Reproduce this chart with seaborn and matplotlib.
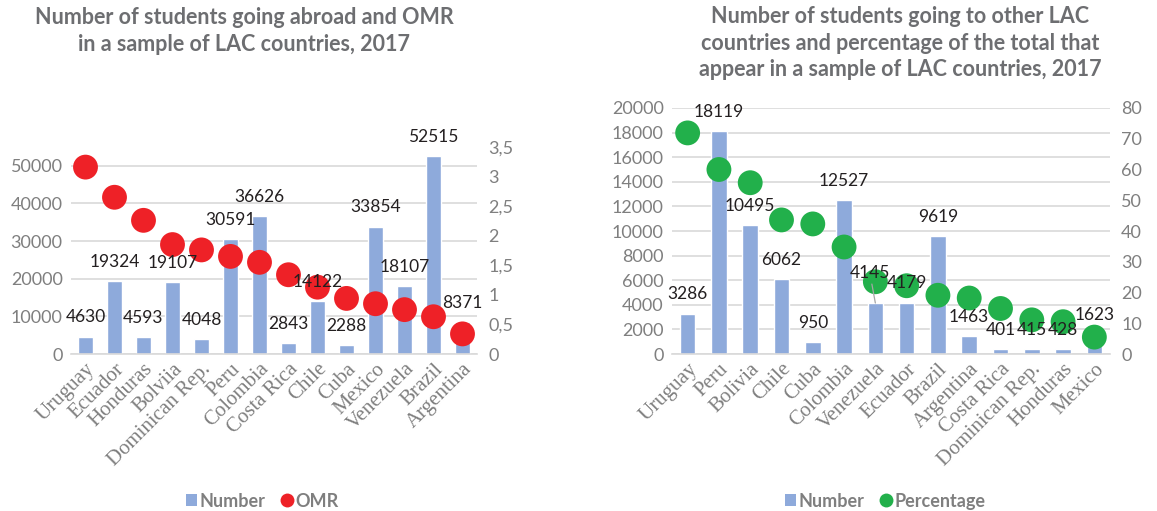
import numpy as np
import pandas as pd
import matplotlib
matplotlib.use("Agg")
import matplotlib.pyplot as plt
import seaborn as sns
from matplotlib.ticker import FixedLocator, MultipleLocator
from matplotlib.patches import Patch
from matplotlib.lines import Line2D

# ---------------------------------------------------------------------------
# Data
# ---------------------------------------------------------------------------
abroad_countries = ["Uruguay", "Ecuador", "Honduras", "Bolviia", "Dominican Rep.",
                    "Peru", "Colombia", "Costa Rica", "Chile", "Cuba", "Mexico",
                    "Venezuela", "Brazil", "Argentina"]
abroad_number = [4630, 19324, 4593, 19107, 4048, 30591, 36626, 2843, 14122,
                 2288, 33854, 18107, 52515, 8371]
abroad_omr = [3.16, 2.65, 2.26, 1.85, 1.76, 1.65, 1.55, 1.34, 1.13, 0.94,
              0.85, 0.75, 0.63, 0.34]

lac_countries = ["Uruguay", "Peru", "Bolivia", "Chile", "Cuba", "Colombia",
                 "Venezuela", "Ecuador", "Brazil", "Argentina", "Costa Rica",
                 "Dominican Rep.", "Honduras", "Mexico"]
lac_number = [3286, 18119, 10495, 6062, 950, 12527, 4145, 4179, 9619, 1463,
              401, 415, 428, 1623]
lac_pct = [71.9, 60.0, 55.7, 43.6, 42.3, 34.8, 23.5, 22.2, 19.1, 18.2, 14.8,
           11.1, 10.5, 5.5]

left_title = "Number of students going abroad and OMR\nin a sample of LAC countries, 2017"
right_title = ("Number of students going to other LAC\ncountries and percentage of the total that\n"
               "appear in a sample of LAC countries, 2017")

# ---------------------------------------------------------------------------
# Style
# ---------------------------------------------------------------------------
BAR = "#8eaadb"
RED = "#ee2127"
GREEN = "#22b04b"
GRID = "#d9d9d9"
TICK = "#7f7f7f"
TITLE = "#6d6e71"
LABEL = "#231f20"

sns.set_style("white")
plt.rcParams["font.family"] = ["Lato", "DejaVu Sans"]


def draw_panel(fig, rect, countries, numbers, points, point_color,
               ymax, ystep, y2max, y2step, y2fmt, label_shift=None):
    ax = fig.add_axes(rect)
    df = pd.DataFrame({"country": countries, "number": numbers, "point": points})
    sns.barplot(data=df, x="country", y="number", color=BAR, width=0.5,
                saturation=1, ax=ax, zorder=2)
    ax.set_ylim(0, ymax)
    ax.yaxis.set_major_locator(MultipleLocator(ystep))
    ax.set_xlim(-0.5, len(countries) - 0.5)
    ax.grid(axis="y", color=GRID, lw=1.2, zorder=0)
    ax.set_axisbelow(True)
    for s in ["top", "right", "left"]:
        ax.spines[s].set_visible(False)
    ax.spines["bottom"].set_color(GRID)
    ax.spines["bottom"].set_linewidth(1.2)
    ax.set_xlabel("")
    ax.set_ylabel("")
    ax.tick_params(axis="y", length=0, labelsize=13, labelcolor=TICK, pad=6)
    ax.tick_params(axis="x", which="major", length=0, pad=4)
    ax.xaxis.set_minor_locator(FixedLocator(np.arange(-0.5, len(countries), 1.0)))
    ax.tick_params(axis="x", which="minor", length=6, color=GRID, width=1.2)
    ax.set_xticks(range(len(countries)))
    ax.set_xticklabels(countries, rotation=45, ha="right", rotation_mode="anchor",
                       family="Liberation Serif", fontsize=15, color=TICK)

    ax2 = ax.twinx()
    sns.scatterplot(data=df, x="country", y="point", color=point_color, s=320,
                    edgecolor="none", ax=ax2, zorder=3)
    ax2.set_ylim(0, y2max)
    ax2.yaxis.set_major_locator(MultipleLocator(y2step))
    ax2.yaxis.set_major_formatter(y2fmt)
    ax2.set_xlim(-0.5, len(countries) - 0.5)
    ax2.set_ylabel("")
    ax2.set_xlabel("")
    for s in ax2.spines.values():
        s.set_visible(False)
    ax2.tick_params(axis="y", length=0, labelsize=13, labelcolor=TICK, pad=8)

    # data labels above bars, drawn over the dots
    for i, p in enumerate(ax.patches[:len(numbers)]):
        xc = p.get_x() + p.get_width() / 2
        h = p.get_height()
        dx, dy = 0, 8
        kw = {}
        if label_shift and i in label_shift:
            dx, dy = label_shift[i]
            kw = dict(arrowprops=dict(arrowstyle="-", color="#a6a6a6", lw=0.9,
                                      shrinkA=0, shrinkB=0))
        ax2.annotate(f"{int(round(h))}", xy=(xc, h), xycoords=ax.transData,
                     xytext=(dx, dy), textcoords="offset points",
                     ha="center", va="bottom", fontsize=12.5, color=LABEL,
                     zorder=5, **kw)
    return ax, ax2


fig = plt.figure(figsize=(11.57, 5.11), dpi=100)

draw_panel(fig, [71 / 1157, 157 / 511, 406 / 1157, 207 / 511],
           abroad_countries, abroad_number, abroad_omr, RED,
           55000, 10000, 3.5, 0.5,
           lambda v, pos: f"{v:g}".replace(".", ","))

draw_panel(fig, [672 / 1157, 157 / 511, 438 / 1157, 246 / 511],
           lac_countries, lac_number, lac_pct, GREEN,
           20000, 2000, 80, 10,
           lambda v, pos: f"{v:g}", label_shift={6: (-4, 16)})

# titles
fig.text(244 / 1157, 1 - 31 / 511, left_title, ha="center", va="center",
         fontsize=15.5, fontweight="bold", color=TITLE, linespacing=1.3)
fig.text(900 / 1157, 1 - 43 / 511, right_title, ha="center", va="center",
         fontsize=15.5, fontweight="bold", color=TITLE, linespacing=1.3)


# legends
def bottom_legend(x, label2, color2):
    handles = [Patch(facecolor=BAR, edgecolor="none"),
               Line2D([], [], marker="o", color="none", markerfacecolor=color2,
                      markeredgecolor="none", markersize=10)]
    leg = fig.legend(handles, ["Number", label2], loc="center",
                     bbox_to_anchor=(x, 1 - 501 / 511), ncol=2, frameon=False,
                     handlelength=0.6, handleheight=0.6, handletextpad=0.15,
                     columnspacing=0.9, prop={"weight": "bold", "size": 13})
    for t in leg.get_texts():
        t.set_color(TICK)


bottom_legend(262 / 1157, "OMR", RED)
bottom_legend(885 / 1157, "Percentage", GREEN)

plt.savefig("out.png", dpi=100)
